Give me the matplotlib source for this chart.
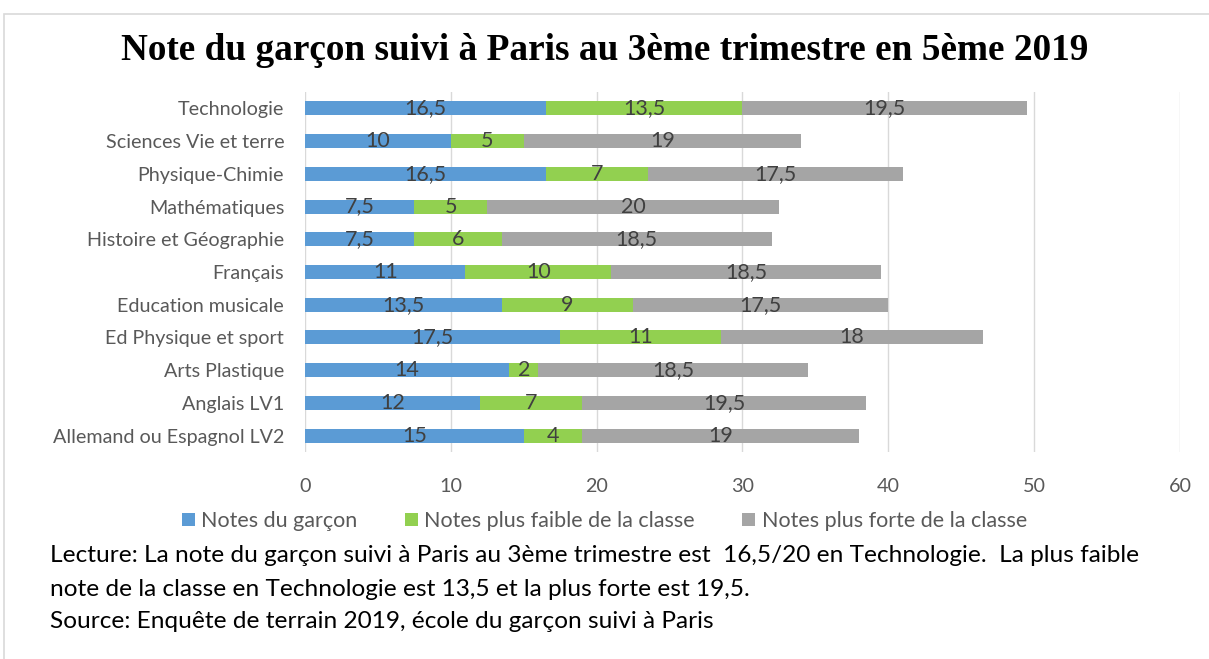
import numpy as np
from matplotlib import pyplot as plt
from matplotlib.patches import Rectangle

categories = ["Allemand ou Espagnol LV2", "Anglais LV1", "Arts Plastique",
              "Ed Physique et sport", "Education musicale", "Français",
              "Histoire et Géographie", "Mathématiques", "Physique-Chimie",
              "Sciences Vie et terre", "Technologie"]
garcon = [15, 12, 14, 17.5, 13.5, 11, 7.5, 7.5, 16.5, 10, 16.5]
faible = [4, 7, 2, 11, 9, 10, 6, 5, 7, 5, 13.5]
forte = [19, 19.5, 18.5, 18, 17.5, 18.5, 18.5, 20, 17.5, 19, 19.5]
series_names = ["Notes du garçon", "Notes plus faible de la classe",
                "Notes plus forte de la classe"]
colors = ["#5B9BD5", "#92D050", "#A5A5A5"]

font = "Lato"
txt_col = "#404040"

fig = plt.figure(figsize=(12.09, 6.59), dpi=100)
fig.patches.append(Rectangle((4 / 1209, -0.01), 1.1, 1 - 14 / 659 + 0.01,
                             transform=fig.transFigure, fill=False,
                             edgecolor="#D9D9D9", linewidth=1.2))
ax = fig.add_axes([305 / 1209, 1 - 452 / 659, 875 / 1209, 360 / 659])

y = np.arange(len(categories))
left = np.zeros(len(categories))
for vals, name, c in zip([garcon, faible, forte], series_names, colors):
    vals = np.array(vals, dtype=float)
    bars = ax.barh(y, vals, left=left, height=0.43, color=c, label=name, zorder=2)
    for b, v in zip(bars, vals):
        lab = ("%g" % v).replace(".", ",")
        ax.text(b.get_x() + b.get_width() / 2, b.get_y() + b.get_height() / 2, lab,
                ha="center", va="center", fontsize=15.5, color=txt_col,
                family=font, zorder=3)
    left += vals

ax.set_xlim(0, 60)
ax.set_ylim(-0.5, len(categories) - 0.5)
ax.set_xticks(range(0, 61, 10))
ax.set_yticks(y)
ax.set_yticklabels(categories)
ax.grid(axis="x", color="#D9D9D9", linewidth=1, zorder=0)
for s in ax.spines.values():
    s.set_visible(False)
ax.tick_params(length=0, labelsize=14.2, labelcolor="#595959", pad=19)
ax.tick_params(axis="y", pad=15)
for t in ax.get_xticklabels() + ax.get_yticklabels():
    t.set_family(font)

fig.text(0.5, 1 - 51 / 659, "Note du garçon suivi à Paris au 3ème trimestre en 5ème 2019",
         ha="center", va="center", fontsize=26.8, fontweight="bold",
         family="Liberation Serif")

fig.legend(loc="center", bbox_to_anchor=(0.5, 1 - 521 / 659), ncol=3, frameon=False,
           prop={"family": font, "size": 15.5}, handlelength=0.6, handleheight=0.6,
           handletextpad=0.3, columnspacing=2.2, labelcolor="#595959")

notes = ["Lecture: La note du garçon suivi à Paris au 3ème trimestre est  16,5/20 en Technologie.  La plus faible",
         "note de la classe en Technologie est 13,5 et la plus forte est 19,5.",
         "Source: Enquête de terrain 2019, école du garçon suivi à Paris"]
for i, line in enumerate(notes):
    fig.text(50 / 1209, 1 - (556 + i * 33) / 659, line, ha="left", va="center",
             fontsize=17.6, family=font, color="black")

plt.savefig("out.png", dpi=100)
